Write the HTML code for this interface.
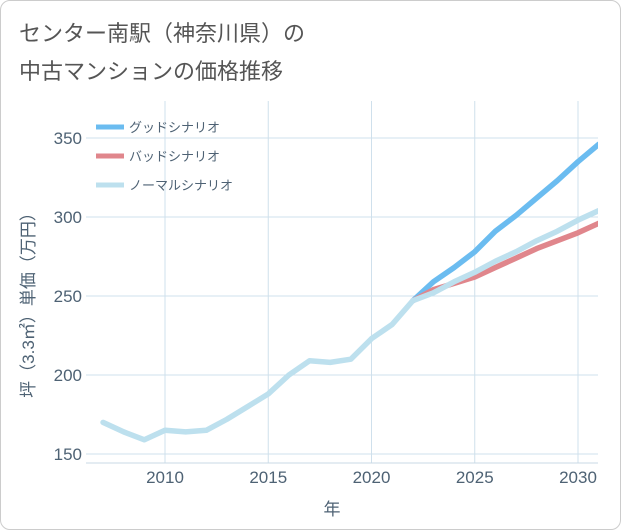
<!DOCTYPE html>
<html><head><meta charset="utf-8"><style>
body{margin:0;background:#fff;}
#card{position:absolute;left:0;top:0;width:619px;height:528px;border:1px solid #ccc;border-radius:10px;background:#fff;overflow:hidden;}
#title{position:absolute;left:18px;top:14px;font:22px "Liberation Sans","Noto Sans CJK JP",sans-serif;color:#555;line-height:38px;}
svg text{font-family:"Liberation Sans","Noto Sans CJK JP",sans-serif;}
</style></head><body>
<div id="card">
<div id="title">センター南駅（神奈川県）の<br>中古マンションの価格推移</div>
<svg id="chart" width="621" height="530" style="position:absolute;left:0;top:0"></svg>
</div>
<script>
const years=[2007,2008,2009,2010,2011,2012,2013,2014,2015,2016,2017,2018,2019,2020,2021,2022,2023,2024,2025,2026,2027,2028,2029,2030,2031];
const normal=[170,164,159,165,164,165,172,180,188,200,209,208,210,223,232,247,252,259,265,272,278,285,291,298,304];
const futureYears=[2022,2023,2024,2025,2026,2027,2028,2029,2030,2031];
const good=[247,259,268,278,291,301,312,323,335,346];
const bad=[247,254,258,262,268,274,280,285,290,296];
const xTicks=[2010,2015,2020,2025,2030];
const yTicks=[150,200,250,300,350];
const seriesNames=["グッドシナリオ","バッドシナリオ","ノーマルシナリオ"];
const NS="http://www.w3.org/2000/svg";
const svg=document.getElementById('chart');
const L=85,R=597,T=100,B=462;
const x=v=>164+(v-2010)*(577-164)/20;
const y=v=>453-(v-150)*(453-137)/200;
function el(t,a){const e=document.createElementNS(NS,t);for(const k in a)e.setAttribute(k,a[k]);svg.appendChild(e);return e;}
xTicks.forEach(t=>{
 const g=el('line',{x1:x(t),x2:x(t),y1:T,y2:B,stroke:'#cfe0ec','stroke-width':1});
 
 
 const tx=el('text',{x:x(t),y:B+20,'text-anchor':'middle','font-size':17,fill:'#4e6274'});
 tx.textContent=t;
 
 
});
yTicks.forEach(t=>{
 const g=el('line',{x1:L,x2:R,y1:y(t),y2:y(t),stroke:'#cfe0ec','stroke-width':1});
 
 
 const tx=el('text',{x:L-4,y:y(t)+6,'text-anchor':'end','font-size':17,fill:'#4e6274'});
 tx.textContent=t;
 
 
});
const ax=el('line',{x1:L,x2:R,y1:B,y2:B,stroke:'#c8d8e4'});


const xt=el('text',{x:(L+R)/2-10,y:514,'text-anchor':'middle','font-size':17,fill:'#4e6274'});xt.textContent='年';


const yt=el('text',{x:0,y:0,'text-anchor':'middle','font-size':17,fill:'#4e6274',transform:'translate(33,300) rotate(-90)'});yt.textContent='坪（3.3㎡）単価（万円）';


const clip=el('clipPath',{id:'c'});const cr=document.createElementNS(NS,'rect');
cr.setAttribute('x',L);cr.setAttribute('y',T-10);cr.setAttribute('width',R-L);cr.setAttribute('height',B-T+10);clip.appendChild(cr);
function line(xs,vs,color,name){
 const p=el('polyline',{points:xs.map((v,i)=>x(v)+','+y(vs[i])).join(' '),fill:'none',stroke:color,'stroke-width':5.5,'stroke-linejoin':'round','stroke-linecap':'round','clip-path':'url(#c)'});
 
 
}
line(futureYears,good,'#6bbcf0','good-scenario-line');
line(futureYears,bad,'#e0868c','bad-scenario-line');
line(years,normal,'#bde0ee','normal-scenario-line');
const colors=['#6bbcf0','#e0868c','#bde0ee'];
seriesNames.forEach((n,i)=>{
 const yy=126+i*29;
 const l=el('line',{x1:95,x2:123,y1:yy,y2:yy,stroke:colors[i],'stroke-width':5});
 
 
 const t=el('text',{x:128,y:yy+5,'font-size':13,fill:'#4e6274'});t.textContent=n;
 
 
});
</script>
</body></html>
